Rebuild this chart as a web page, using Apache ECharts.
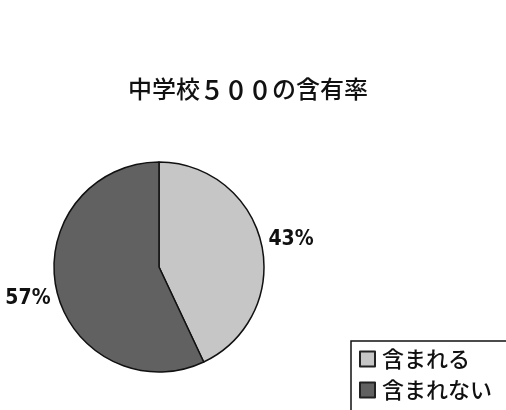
<!DOCTYPE html>
<html>
<head>
<meta charset="utf-8">
<script src="https://cdn.jsdelivr.net/npm/echarts@6/dist/echarts.min.js"></script>
<style>
  html, body { margin: 0; padding: 0; background: #fff; }
  #chart { width: 506px; height: 410px; }
</style>
</head>
<body>
<div id="chart"></div>
<script>
// 中学校500 の含有率
const titleText = '中学校{d|5}{d|0}{d|0}の含有率';
const categories = ['含まれる', '含まれない'];
const shares = [43, 57];
const sliceColors = ['#c6c6c6', '#616161'];
const labelOffsets = [[3, -4], [-2, 8]];

const chart = echarts.init(document.getElementById('chart'), null, { renderer: 'canvas' });

const jpFont = '"Noto Sans CJK JP", sans-serif';
const numFont = '"DejaVu Sans Condensed", "Liberation Sans", sans-serif';

chart.setOption({
  backgroundColor: '#ffffff',
  animation: false,
  title: {
    text: titleText,
    left: 243,
    textAlign: 'center',
    top: 70,
    textStyle: {
      fontFamily: jpFont, fontSize: 24, fontWeight: 500, color: '#111',
      rich: { d: { fontFamily: jpFont, fontSize: 28, fontWeight: 500, color: '#111', width: 24, align: 'center' } }
    }
  },
  legend: {
    orient: 'vertical',
    left: 351,
    top: 341,
    height: 80,
    padding: [7, 40, 14, 8],
    itemGap: 9,
    itemWidth: 15,
    itemHeight: 15,
    icon: 'rect',
    borderColor: '#111',
    borderWidth: 1.5,
    backgroundColor: '#fff',
    textStyle: { fontFamily: jpFont, fontSize: 22, fontWeight: 500, color: '#111', padding: [0, 0, 0, 2] },
    data: categories.map((c, i) => ({
      name: c,
      itemStyle: { color: sliceColors[i], borderColor: '#222', borderWidth: 2 }
    }))
  },
  series: [{
    type: 'pie',
    center: [159, 267],
    radius: 105,
    startAngle: 90,
    clockwise: true,
    avoidLabelOverlap: false,
    itemStyle: { borderColor: '#111', borderWidth: 1.5 },
    label: {
      show: true,
      position: 'outside',
      formatter: '{c}%',
      fontFamily: numFont,
      fontSize: 21,
      fontWeight: 'bold',
      color: '#111',
      distanceToLabelLine: 2
    },
    labelLine: { show: false, length: 2, length2: 0 },
    emphasis: { disabled: true },
    data: categories.map((c, i) => ({
      name: c,
      value: shares[i],
      itemStyle: { color: sliceColors[i] },
      label: { offset: labelOffsets[i] }
    }))
  }]
});
</script>
</body>
</html>
